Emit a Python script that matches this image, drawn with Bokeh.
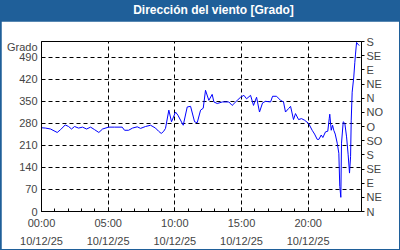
from bokeh.plotting import figure
from bokeh.models import (Range1d, LinearAxis, FixedTicker, Div, ColumnDataSource)
from bokeh.layouts import column
from bokeh.embed import file_html
from bokeh.resources import INLINE

title_text = "Dirección del viento [Grado]"
y_title = "Grado"

hours = [0.0, 0.3, 0.68, 1.18, 1.43, 1.78, 2.03, 2.25, 2.48, 2.78, 3.08, 3.38, 3.68, 3.98,
         4.3, 4.58, 5.03, 5.48, 6.05, 6.23, 6.53, 6.83, 7.18, 7.43, 7.8, 8.18, 8.55, 8.78,
         8.98, 9.15, 9.3, 9.55, 9.75, 10.05, 10.23, 10.63, 10.93, 11.18, 11.48, 11.68, 11.93,
         12.13, 12.3, 12.55, 12.8, 12.93, 13.18, 13.56, 14.05, 14.3, 14.68, 14.93, 15.18,
         15.38, 15.68, 15.9, 16.13, 16.35, 16.58, 16.8, 17.18, 17.33, 17.63, 17.93, 18.15,
         18.3, 18.53, 18.68, 18.9, 19.05, 19.28, 19.5, 19.73, 20.03, 20.3, 20.48, 20.68,
         20.8, 20.98, 21.1, 21.3, 21.47, 21.58, 21.62, 21.73, 21.83, 21.92, 22.03, 22.18,
         22.3, 22.37, 22.45, 22.5, 22.63, 22.75, 22.88, 23.0, 23.1, 23.18, 23.23, 23.3,
         23.42, 23.5, 23.55, 23.63, 23.72, 23.83]
degrees = [266, 265, 262, 251, 260, 275, 270, 262, 270, 265, 268, 262, 268, 260,
           251, 262, 268, 268, 268, 258, 258, 265, 269, 264, 270, 274, 265, 255,
           248, 254, 264, 322, 285, 316, 306, 274, 332, 334, 285, 282, 322,
           328, 385, 353, 372, 348, 343, 348, 348, 337, 353, 363, 369,
           358, 369, 337, 363, 316, 345, 350, 348, 366, 366, 353, 348,
           316, 327, 334, 292, 311, 292, 295, 290, 280, 258, 246, 229,
           229, 243, 235, 253, 255, 295, 309, 258, 274, 258, 246, 217,
           185, 80, 45, 217, 285, 280, 237, 180, 122, 174, 290, 379,
           427, 474, 500, 537, 532, 527]

x_ticks = [0, 5, 10, 15, 20]
x_tick_labels = ["00:00\n10/12/25", "05:00\n10/12/25", "10:00\n10/12/25",
                 "15:00\n10/12/25", "20:00\n10/12/25"]
y_ticks = [0, 70, 140, 210, 280, 350, 420, 490]
y_title_pos = 524
dir_ticks = [0, 45, 90, 135, 180, 225, 270, 315, 360, 405, 450, 495, 540]
dir_labels = ["N", "NE", "E", "SE", "S", "SO", "O", "NO", "N", "NE", "E", "SE", "S"]

BLUE = "#1f5f99"
FONT = "Liberation Sans"

src = ColumnDataSource(data=dict(h=hours, d=degrees))

p = figure(width=398, height=228, output_backend="svg", toolbar_location=None,
           x_range=Range1d(0, 24), y_range=Range1d(0, 540),
           min_border_left=40, min_border_right=38, min_border_top=20, min_border_bottom=37,
           background_fill_color="white", border_fill_color="white",
           outline_line_color="black", margin=(0, 1, 1, 1))
p.line("h", "d", source=src, line_color="#0000ff", line_width=1)

# x axis
xa = p.xaxis[0]
xa.ticker = FixedTicker(ticks=x_ticks, minor_ticks=list(range(0, 25)))
xa.major_label_overrides = {t: l for t, l in zip(x_ticks, x_tick_labels)}
xa.major_tick_in = 4
xa.major_tick_out = 0
xa.minor_tick_in = 3
xa.minor_tick_out = 0
xa.major_label_text_font = FONT
xa.major_label_text_font_size = "11px"
xa.major_label_text_line_height = 1.5
xa.major_label_standoff = 5
xa.axis_line_color = "black"

# left y axis (with the unit name as a top label)
ya = p.yaxis[0]
ya.ticker = FixedTicker(ticks=y_ticks + [y_title_pos], minor_ticks=[])
ya.major_label_overrides = {y_title_pos: y_title}
ya.major_tick_in = 0
ya.major_tick_out = 0
ya.minor_tick_in = 0
ya.minor_tick_out = 0
ya.major_label_text_font = FONT
ya.major_label_text_font_size = "11px"
ya.major_label_standoff = 4

# right axis with compass labels
ra = LinearAxis(ticker=FixedTicker(ticks=dir_ticks, minor_ticks=[]))
ra.major_label_overrides = {t: l for t, l in zip(dir_ticks, dir_labels)}
ra.major_tick_in = 0
ra.major_tick_out = 3
ra.minor_tick_in = 0
ra.minor_tick_out = 0
ra.major_label_text_font = FONT
ra.major_label_text_font_size = "11px"
ra.major_label_standoff = 2
p.add_layout(ra, "right")

# grids
p.xgrid.ticker = FixedTicker(ticks=[5, 10, 15, 20])
p.ygrid.ticker = FixedTicker(ticks=y_ticks[1:])
for g in (p.xgrid[0], p.ygrid[0]):
    g.grid_line_color = "black"
    g.grid_line_dash = "4 3"
    g.grid_line_width = 1

div = Div(text=title_text, width=400, height=21, margin=0,
          styles={"background-color": BLUE, "color": "white", "font-family": FONT,
                  "font-size": "12px", "font-weight": "bold", "text-align": "center",
                  "line-height": "21px", "padding-left": "27px", "box-sizing": "border-box"})

layout = column(div, p, width=400, height=250, spacing=0,
                styles={"background-color": BLUE})

open("out.html", "w").write(file_html(layout, INLINE))
